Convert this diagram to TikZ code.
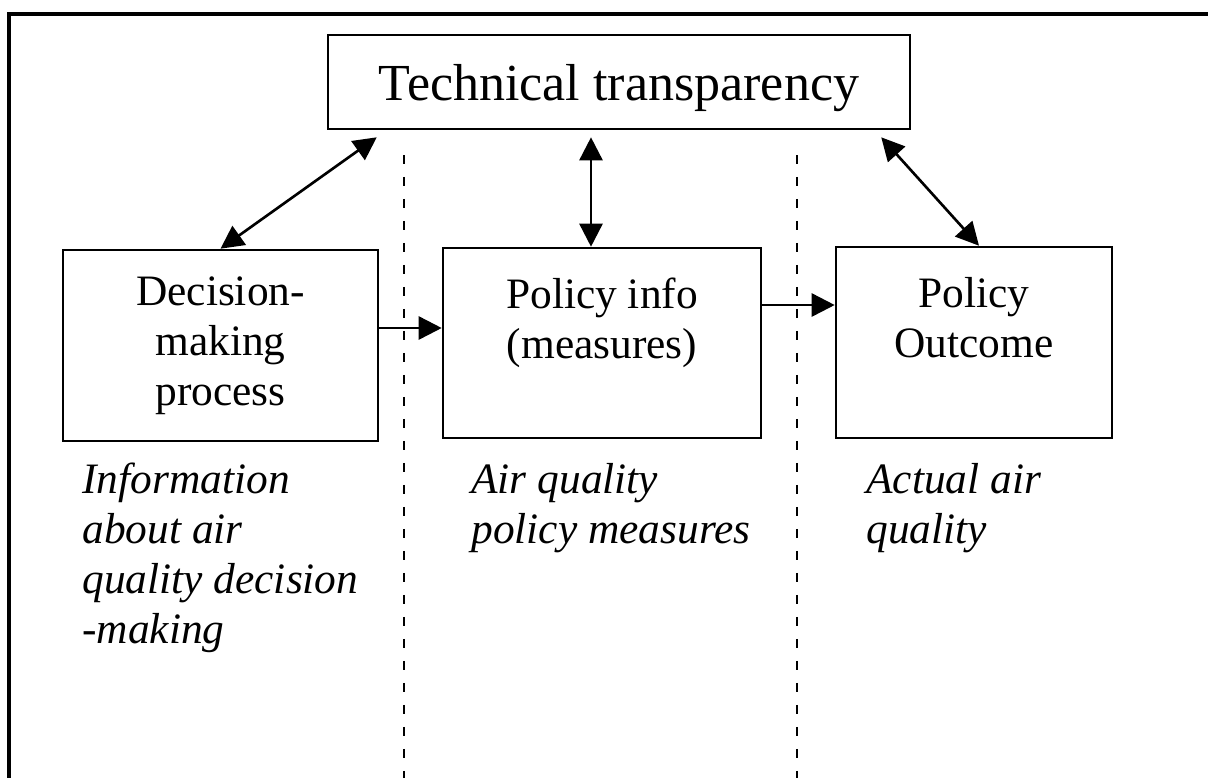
\documentclass[tikz,border=0pt]{standalone}
\usepackage{fontspec}
\setmainfont{Liberation Serif}
\usetikzlibrary{arrows.meta}
\tikzset{
  box/.style={draw, line width=1.5pt, align=center, inner sep=0pt,
    font=\fontsize{24.7}{28.4}\selectfont},
  note/.style={anchor=north west, align=left, inner sep=0pt,
    font=\fontsize{24.7}{28.4}\selectfont\itshape},
  link/.style={line width=1.5pt},
  sep/.style={line width=0.8pt, dash pattern=on 0.18cm off 0.26cm}
}
\begin{document}
\begin{tikzpicture}[x=0.02cm, y=-0.02cm, >={Triangle[length=0.46cm,width=0.46cm]}]
\useasboundingbox (0,0) rectangle (1208,778);
\draw[line width=1.8pt] (9,800)--(9,14)--(1230,14);
\draw[sep] (404,155)--(404,778);
\draw[sep] (797,155)--(797,778);
\node[box, font=\fontsize{29.6}{34}\selectfont, text depth=0pt, minimum width=11.64cm, minimum height=1.88cm] (tech) at (619,82) {Technical transparency};
\node[box, minimum width=6.3cm, minimum height=3.82cm] (dec) at (220.5,345.5) {Decision-\\making\\process};
\node[box, minimum width=6.36cm, minimum height=3.8cm] (pol) at (602,343) {Policy info\\(measures)\\\mbox{}};
\node[box, minimum width=5.52cm, minimum height=3.82cm] (out) at (974,342.5) {Policy\\Outcome\\\mbox{}};
\node[note] (decnote) at (82,463) {Information\\about air\\quality decision\\-making};
\node[note] (polnote) at (471,463) {Air quality\\policy measures};
\node[note] (outnote) at (866,463) {Actual air\\quality};
\draw[link, <->] (dec.north)--([shift={(50,7)}]tech.south west);
\draw[link, <->] ([shift={(-11,0)}]pol.north)--([shift={(-28,7)}]tech.south);
\draw[link, <->] ([shift={(5,0)}]out.north)--([shift={(-30,7)}]tech.south east);
\draw[link, ->] ([yshift=0.35cm]dec.east)--([yshift=0.35cm]dec.east -| pol.west);
\draw[link, ->] ([yshift=0.76cm]pol.east)--([yshift=0.76cm]pol.east -| out.west);
\end{tikzpicture}
\end{document}
